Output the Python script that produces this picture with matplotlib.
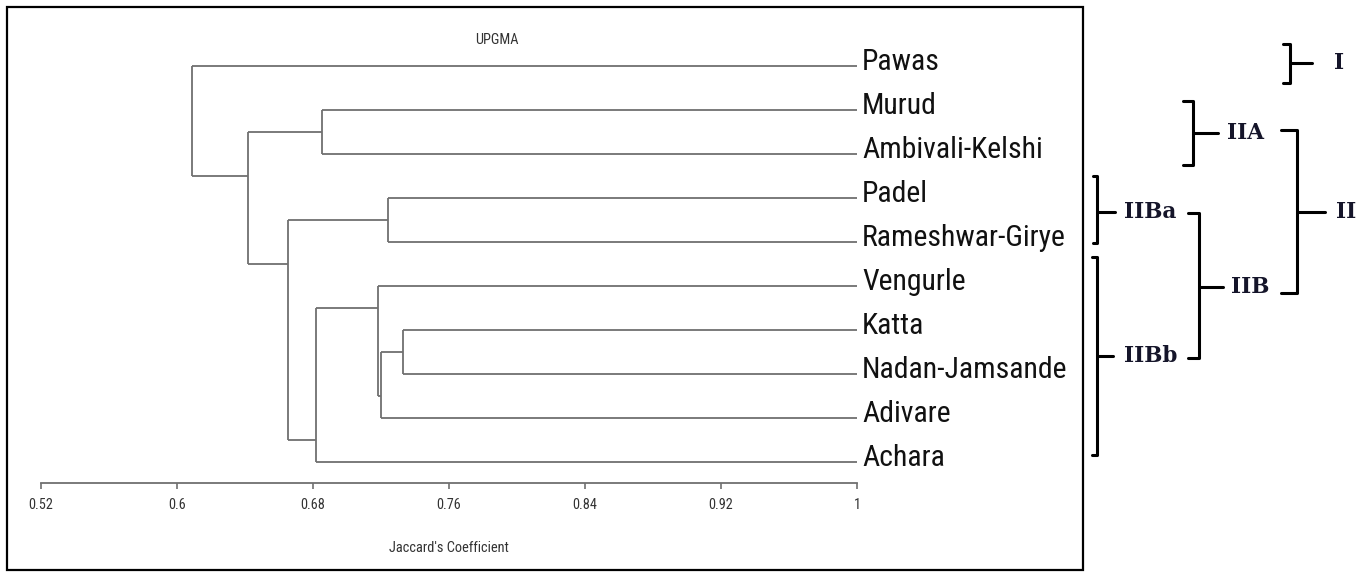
import matplotlib
matplotlib.use('Agg')
import matplotlib.pyplot as plt
from matplotlib import font_manager
from matplotlib.patches import Rectangle
from matplotlib.transforms import blended_transform_factory

# leaf order top to bottom
leaves = ["Pawas", "Murud", "Ambivali-Kelshi", "Padel", "Rameshwar-Girye",
          "Vengurle", "Katta", "Nadan-Jamsande", "Adivare", "Achara"]

# UPGMA merges (leaves are 0..9, merged clusters get 10, 11, ...)
merge_left = [1, 3, 6, 12, 5, 14, 11, 10, 0]
merge_right = [2, 4, 7, 8, 13, 9, 15, 16, 17]
merge_sim = [0.685, 0.724, 0.733, 0.720, 0.718, 0.682, 0.665, 0.642, 0.609]

ticks = [0.52, 0.6, 0.68, 0.76, 0.84, 0.92, 1.0]
tick_labels = ["0.52", "0.6", "0.68", "0.76", "0.84", "0.92", "1"]

group_names = ["I", "IIA", "IIBa", "IIBb", "IIB", "II"]

W, H = 1372, 572
LINE = '#707070'
CONDENSED = ('condensed', 'semi-condensed', 'extra-condensed', 'ultra-condensed')


def narrow_font():
    '''
    pick a narrow sans face if one is installed
    :return: (family, stretch)
    '''
    fonts = font_manager.fontManager.ttflist
    names = {f.name for f in fonts}
    for fam in ['Liberation Sans Narrow', 'Arial Narrow', 'Roboto Condensed',
                'Noto Sans Condensed']:
        if fam in names:
            return fam, 'normal'
    for fam in ['Liberation Sans', 'Noto Sans', 'Roboto', 'DejaVu Sans']:
        for f in fonts:
            if f.name == fam and (f.stretch in CONDENSED or
                                  (isinstance(f.stretch, int) and f.stretch < 500)):
                return fam, 'condensed'
    return 'Liberation Sans', 'normal'


fam, stretch = narrow_font()
fkw = dict(family=fam, fontstretch=stretch)

fig = plt.figure(figsize=(W / 100, H / 100), dpi=100)
renderer = fig.canvas.get_renderer()


def fit_size(text, width_px, base=20):
    t = fig.text(0, 0, text, fontsize=base, **fkw)
    w = t.get_window_extent(renderer).width
    t.remove()
    return base * width_px / w


leaf_size = min(fit_size("Ambivali-Kelshi", 181), 23)
tick_size = fit_size("0.52", 25)
small_size = fit_size("Jaccard's Coefficient", 120)

# axis line sits at y=483px, leaves start at 66px with 44px spacing
ax = fig.add_axes([41 / W, (H - 483) / H, 816 / W, (483 - 20) / H])
ax.set_xlim(0.52, 1.0)
ax.set_ylim((483 - 66) / 44, (20 - 66) / 44)

n = len(leaves)
first = {i: i for i in range(n)}
last = {i: i for i in range(n)}
conn = {i: float(i) for i in range(n)}
xpos = {i: 1.0 for i in range(n)}
for k, (a, b, s) in enumerate(zip(merge_left, merge_right, merge_sim)):
    node = n + k
    kw = dict(color=LINE, lw=1.3, solid_capstyle='butt')
    ax.plot([s, s], [conn[a], conn[b]], **kw)
    ax.plot([s, xpos[a]], [conn[a], conn[a]], **kw)
    ax.plot([s, xpos[b]], [conn[b], conn[b]], **kw)
    first[node] = first[a]
    last[node] = last[b]
    # joint sits between the two child blocks
    conn[node] = (last[a] + first[b]) / 2
    xpos[node] = s

for i, name in enumerate(leaves):
    ax.annotate(name, (1.0, i), xytext=(3.6, -3), textcoords='offset points',
                va='baseline', ha='left', fontsize=leaf_size, color='#111111',
                annotation_clip=False, **fkw)

for side in ['top', 'right', 'left']:
    ax.spines[side].set_visible(False)
ax.spines['bottom'].set_color(LINE)
ax.spines['bottom'].set_linewidth(1.3)
ax.spines['bottom'].set_bounds(0.52, 1.0)
ax.set_yticks([])
ax.set_xticks(ticks)
ax.set_xticklabels(tick_labels, fontsize=tick_size, color='#333333', **fkw)
ax.tick_params(axis='x', length=4.5, width=1.2, color=LINE, pad=6.5)
ax.set_xlabel("Jaccard's Coefficient", fontsize=small_size, color='#333333',
              labelpad=21, **fkw)
ax.set_title("UPGMA", fontsize=small_size, color='#333333', pad=0,
             x=(497 - 41) / 816, y=(483 - 40) / 463, va='center', **fkw)
ax.patch.set_alpha(0)

# outer frame around the tree
fig.patches.append(Rectangle((7 / W, (H - 570) / H), (1083 - 7) / W, (570 - 7) / H,
                             transform=fig.transFigure, fill=False,
                             edgecolor='black', lw=1.6))

# cluster brackets: top, bottom, joint (leaf units); x of spine, hook, tick end, label (px)
brackets = [
    (-0.50, 0.39, -0.07, 1290, 7, 1312, 1334),
    (0.80, 2.25, 1.52, 1193, 10, 1218, 1227),
    (2.50, 4.02, 3.32, 1097, 4, 1115, 1124),
    (4.34, 8.84, 6.59, 1097, 5, 1113, 1124),
    (3.34, 6.64, 5.02, 1199, 11, 1223, 1231),
    (1.45, 5.16, 3.32, 1297, 16, 1325, 1336),
]
tr = blended_transform_factory(fig.transFigure, ax.transData)
for name, (top, bot, mid, xv, hook, xt, xl) in zip(group_names, brackets):
    kw = dict(color='black', lw=2.2, transform=tr, clip_on=False,
              solid_joinstyle='round', solid_capstyle='round')
    ax.plot([(xv - hook) / W, xv / W, xv / W, (xv - hook) / W],
            [top, top, bot, bot], **kw)
    ax.plot([xv / W, xt / W], [mid, mid], **kw)
    ax.text(xl / W, mid, name, transform=tr, va='center', ha='left',
            family='DejaVu Serif', fontweight='bold', fontsize=15.5,
            color='#15152a')

fig.savefig('out.png', dpi=100)
